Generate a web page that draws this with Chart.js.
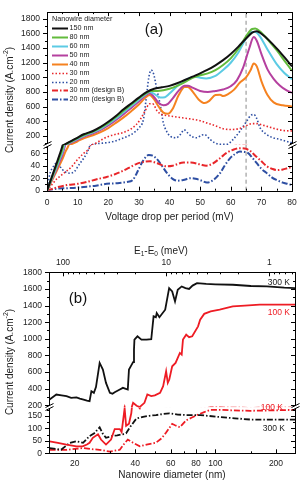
<!DOCTYPE html>
<html>
<head>
<meta charset="utf-8">
<script src="https://cdn.jsdelivr.net/npm/chart.js@4.4.1/dist/chart.umd.min.js"></script>
<style>
  html, body { margin: 0; padding: 0; background: #fff; }
  #wrap { position: relative; width: 304px; height: 489px; }
  canvas { position: absolute; left: 0; }
  #chartA { top: 0; }
  #chartB { top: 228px; }
</style>
</head>
<body>
<div id="wrap">
  <canvas id="chartA" width="304" height="228"></canvas>
  <canvas id="chartB" width="304" height="261"></canvas>
</div>
<script>
const FONT = "'Liberation Sans', Arial, sans-serif";

// ---- panel (a): current density vs voltage drop per period, [mV, A/cm2] ----
const nw150 = [[0,0],[1,14],[2,28],[3,42],[4,56],[5,71],[6,92],[8,135],[10,180],[12,225],[15,270],[17.5,325],[20,395],[22.5,475],[25,565],[27.5,645],[30,725],[32.5,800],[35,845],[37.5,865],[40,885],[42.5,920],[45,965],[47.5,1010],[50,1055],[52.5,1105],[55,1165],[57.5,1235],[60,1320],[62.5,1420],[65,1530],[67,1610],[68.5,1630],[70,1595],[72.5,1505],[75,1395],[77.5,1275],[80,1150]];
const nw80 = [[0,0],[1,13],[2,26],[3,39],[4,52],[5,66],[6,86],[8,128],[10,172],[12,215],[15,262],[17.5,315],[20,380],[22.5,460],[25,545],[27.5,630],[30,715],[32.5,790],[34,815],[36,815],[38,825],[40,845],[42.5,885],[45,935],[47.5,995],[50,1030],[52.5,1055],[55,1100],[57.5,1170],[60,1260],[62.5,1390],[65,1560],[67,1660],[68,1665],[69.5,1630],[72,1520],[75,1370],[77.5,1230],[80,1090]];
const nw60 = [[0,0],[1,12],[2,24],[3,36],[4,49],[5,61],[6,80],[8,120],[10,162],[12,205],[15,252],[17.5,300],[20,365],[22.5,440],[25,525],[27.5,610],[30,695],[32.5,780],[33.5,800],[35,775],[37,725],[38.5,730],[40,780],[42.5,880],[45,960],[47.5,1005],[48.5,1010],[50,995],[52,985],[55,1020],[57.5,1100],[60,1200],[62.5,1340],[65,1530],[67,1620],[68,1620],[69.5,1560],[72,1380],[75,1180],[77.5,1060],[80,975]];
const nw50 = [[0,0],[1,11],[2,22],[3,33],[4,45],[5,57],[6,74],[8,112],[10,150],[12,192],[15,238],[17.5,285],[20,345],[22.5,420],[25,500],[27.5,585],[30,670],[32,750],[33.5,785],[35,730],[36.5,650],[38,620],[39.5,640],[41,710],[43,820],[45,885],[46,885],[47.5,860],[50,815],[52.5,800],[55,815],[57.5,835],[60,880],[62,960],[64,1130],[66,1390],[67.5,1550],[68.5,1500],[70,1320],[72,1110],[74,980],[76,890],[78,830],[80,790]];
const nw40 = [[0,0],[1,10],[2,20],[3,30],[4,40],[5,50],[6,62],[7,72],[8,90],[10,130],[12,170],[15,212],[17.5,255],[20,310],[22.5,380],[25,455],[27.5,540],[30,630],[32,720],[33.5,760],[35,700],[36.5,600],[38,520],[39.5,505],[41,570],[43,760],[45,870],[46,870],[47.5,810],[49.5,700],[51.5,650],[53,680],[55,760],[56.5,765],[57.5,745],[59,770],[61,830],[63,930],[65,1000],[66.5,1100],[67.5,1190],[68.5,1150],[70,950],[72,760],[74,660],[77,620],[80,605]];
const nw30 = [[0,0],[1,6],[2,12],[3,18],[4,22],[5,26],[6,30],[8,38],[10,50],[12,60],[14,70],[15.5,95],[17,130],[18.5,165],[20,195],[22.5,225],[25,250],[27.5,300],[29,350],[30.5,430],[32,540],[33.5,640],[34.5,640],[36,540],[37.5,495],[40,475],[42.5,460],[45,445],[47.5,430],[50,410],[52.5,375],[55,340],[57.5,300],[60,290],[62.5,300],[65,340],[67,370],[68.5,370],[70,355],[72.5,325],[75,295],[77.5,275],[80,270]];
const nw20 = [[0,0],[0.5,15],[1,28],[2,38],[3,44],[4,40],[5,34],[6,30],[7.5,28],[9,31],[10.5,42],[12,52],[13,60],[14,72],[15,88],[17,100],[19.5,110],[22,130],[24,160],[26.5,200],[28.5,250],[30,310],[31.5,430],[32.5,750],[33.2,990],[34,1100],[34.8,1050],[35.8,850],[37,620],[38,380],[39,270],[40.2,200],[42.2,178],[43.5,220],[44.8,285],[46,240],[47.2,195],[48.9,178],[50.5,215],[51.5,220],[53.2,156],[55,105],[56.5,88],[58.7,88],[60.8,156],[63,268],[65.2,403],[66.5,480],[67.5,495],[68.5,440],[69.5,320],[71.7,223],[74,175],[76,156],[78,130],[80,110]];
const nw30B = [[0,0],[3,5],[6.5,9],[10,11],[13,14],[16,18],[19.5,22],[22,26],[24,30],[26.5,36],[29.3,43],[31.5,46],[33.7,47],[36,44],[39,39],[41,40],[44.6,45],[47,45],[50,42],[52,40],[54,43],[56.5,52],[58.5,60],[61,66],[63,68],[65,67],[66.5,63],[68,56],[69.6,49],[71.8,39],[73.5,35],[75,33],[77,34],[78.5,36],[80,38]];
const nw20B = [[0,0],[3,3],[6.5,4],[10,5],[13,6.5],[16,8],[19.5,11],[23,12],[26,14],[28,17],[29.3,28],[31.5,49],[33.2,57],[34.5,56],[36,50],[37.5,40],[39.2,28],[41,19],[42.5,16],[44.5,17],[46.8,20],[48.5,19],[50,17],[52.2,13],[54,16],[56.5,28],[58,40],[59.8,52],[61.5,59],[63,62.5],[64.5,62],[65.7,60],[67,53],[68.5,44],[70,35],[71.8,28],[73.5,21],[75,17],[77,13],[78.5,11],[80,9]];
const markerLine = [[65,0],[65,1890]];

const voltTicks = [0,10,20,30,40,50,60,70,80];
const voltMinor = [5,15,25,35,45,55,65,75];
const jTicksHiA = [200,400,600,800,1000,1200,1400,1600,1800];
const jMinorHiA = [100,300,500,700,900,1100,1300,1500,1700];
const jTicksLoA = [0,20,40,60];
const jMinorLoA = [10,30,50,70];

// ---- panel (b): current density vs nanowire diameter, [nm, A/cm2] ----
const solid300K = [[15,270],[16.2,330],[17.2,320],[18.2,310],[19.2,290],[20.4,295],[21.2,280],[21.9,270],[23,255],[23.7,250],[24.2,370],[24.9,350],[25.5,420],[26.6,710],[27.6,630],[28.6,470],[29.9,350],[30.8,340],[31.6,358],[33.5,390],[34.7,410],[36.7,390],[37.2,630],[38.2,680],[39,720],[39.4,870],[39.6,990],[41,1030],[42.9,990],[45.5,990],[48,995],[49.3,1270],[50.6,1260],[51.1,1310],[52.7,1260],[56.3,1350],[58.9,1610],[61,1570],[63,1450],[65,1590],[68,1630],[71,1610],[74,1600],[77,1640],[81,1670],[90,1660],[100,1655],[122,1650],[150,1635],[180,1630],[220,1615],[250,1610]];
const solid100K = [[15,48],[16.5,42],[18.2,35],[20.4,28],[21.9,28],[23,35],[23.7,42],[24.6,62],[26.1,76],[27,55],[28.6,35],[30.3,55],[31.6,97],[33.5,97],[34.2,85],[35.4,180],[36,110],[37.2,118],[38.2,160],[39,230],[40.6,195],[42.1,180],[44.4,230],[45.9,330],[48,310],[50,320],[53.1,350],[55,430],[56.9,610],[58,470],[59,510],[61,670],[63.4,710],[66.6,830],[68,810],[69,990],[71.6,1050],[74,1020],[76.7,1030],[82,1150],[84,1230],[88,1300],[94.7,1330],[105,1350],[122,1390],[140,1400],[166,1410],[250,1410]];
const dash300K = [[15,21],[17.1,14],[18.9,42],[20.4,48],[22,42],[23.7,69],[25,80],[26.6,104],[27.5,80],[28.6,62],[30.7,69],[32.5,72],[34.7,76],[36,80],[37.6,104],[40.5,139],[43.7,146],[47,150],[50.7,153],[55,157],[59,160],[65,155],[71.6,153],[84,153],[102,146],[125,140],[149,135],[200,135],[250,135]];
const dash100K = [[15,14],[18.2,14],[21.9,21],[24,17],[26.6,14],[29.9,7],[33.5,14],[35,35],[36.7,55],[39,42],[42.1,28],[45.5,35],[50.6,42],[54,60],[56.9,83],[61,118],[63,112],[66.6,104],[71.6,132],[76,142],[81,153],[88,165],[94.7,174],[105,174],[120,172],[149,170],[200,172],[250,174]];

const diamTicks = [20,40,60,80,100,200];
const diamMinor = [30,50,70,90,150];
const energyTicks = [100,10,1];
const energyMinor = [0.6,0.7,0.8,0.9,2,3,4,5,6,7,8,9,20,30,40,50,60,70,80,90];
const jTicksHiB = [200,400,600,800,1000,1200,1400,1600,1800];
const jMinorHiB = [300,500,700,900,1100,1300,1500,1700];
const jTicksLoB = [0,50,100,150];
const jMinorLoB = [25,75,125,175];

const seriesA = [
  { label: '150 nm', data: nw150, color: '#111111', dash: [], width: 2 },
  { label: '80 nm', data: nw80, color: '#62bb3c', dash: [], width: 2 },
  { label: '60 nm', data: nw60, color: '#5ccbe4', dash: [], width: 2 },
  { label: '50 nm', data: nw50, color: '#b5409f', dash: [], width: 2 },
  { label: '40 nm', data: nw40, color: '#f58220', dash: [], width: 2 },
  { label: '30 nm', data: nw30, color: '#e8262a', dash: [1.5, 2], width: 1.6 },
  { label: '20 nm', data: nw20, color: '#2e4fa3', dash: [1.5, 2], width: 1.6 },
  { label: '30 nm (design B)', data: nw30B, color: '#e8262a', dash: [6, 2, 1.5, 2], width: 2 },
  { label: '20 nm (design B)', data: nw20B, color: '#2e4fa3', dash: [6, 2, 1.5, 2], width: 2 }
];

const seriesB = [
  { data: solid300K, color: '#111111', dash: [], width: 1.8 },
  { data: solid100K, color: '#ee1c24', dash: [], width: 1.8 },
  { data: dash300K, color: '#111111', dash: [6, 2, 1.5, 2], width: 1.8 },
  { data: dash100K, color: '#ee1c24', dash: [6, 2, 1.5, 2], width: 1.8 }
];

const toXY = arr => arr.map(p => ({ x: p[0], y: p[1] }));

// every series goes on both halves of the broken y axis
function buildDatasets(series, mode) {
  const out = [];
  series.forEach(s => {
    ['yHi', 'yLo'].forEach(axis => {
      out.push({
        data: toXY(s.data),
        yAxisID: axis,
        borderColor: s.color,
        borderWidth: s.width,
        borderDash: s.dash,
        pointRadius: 0,
        fill: false,
        cubicInterpolationMode: mode,
        tension: mode === 'monotone' ? 0.4 : 0
      });
    });
  });
  return out;
}

// clip each dataset to its own half of the broken axis
const segmentClip = {
  id: 'segmentClip',
  beforeDatasetDraw(chart, args) {
    const y = args.meta.yScale, a = chart.chartArea, ctx = chart.ctx;
    ctx.save();
    ctx.beginPath();
    ctx.rect(a.left, y.top, a.right - a.left, y.bottom - y.top);
    ctx.clip();
  },
  afterDatasetDraw(chart) { chart.ctx.restore(); }
};

function yTickMarks(chart, id, major, minor) {
  const s = chart.scales[id], a = chart.chartArea, ctx = chart.ctx;
  const put = (v, len) => {
    if (v < s.min || v > s.max) return;
    const y = Math.round(s.getPixelForValue(v)) + 0.5;
    ctx.moveTo(a.left - len, y); ctx.lineTo(a.left, y);
    ctx.moveTo(a.right - len, y); ctx.lineTo(a.right, y);
  };
  ctx.beginPath();
  major.forEach(v => put(v, 4));
  minor.forEach(v => put(v, 2));
  ctx.stroke();
}

function xTickMarks(chart, id, major, minor, side) {
  const s = chart.scales[id], a = chart.chartArea, ctx = chart.ctx;
  const put = (v, len) => {
    const x = Math.round(s.getPixelForValue(v)) + 0.5;
    if (x < a.left || x > a.right) return;
    if (side === 'bottom') { ctx.moveTo(x, a.bottom); ctx.lineTo(x, a.bottom - len); }
    else { ctx.moveTo(x, a.top); ctx.lineTo(x, a.top + len); }
  };
  ctx.beginPath();
  major.forEach(v => put(v, 4));
  minor.forEach(v => put(v, 2));
  ctx.stroke();
}

function breakMark(ctx, x, y) {
  ctx.fillStyle = '#fff';
  ctx.fillRect(x - 4, y - 2, 8, 4);
  ctx.beginPath();
  ctx.moveTo(x - 4, y + 0.5); ctx.lineTo(x + 4, y - 3.5);
  ctx.moveTo(x - 4, y + 3.5); ctx.lineTo(x + 4, y - 0.5);
  ctx.stroke();
}

function drawFrame(chart) {
  const { ctx, chartArea: a } = chart;
  ctx.strokeStyle = '#000';
  ctx.lineWidth = 1;
  const l = Math.round(a.left) + 0.5, r = Math.round(a.right) + 0.5;
  const t = Math.round(a.top) + 0.5, b = Math.round(a.bottom) + 0.5;
  ctx.strokeRect(l, t, r - l, b - t);
  const yb = Math.round(chart.scales.yLo.top);
  breakMark(ctx, l, yb);
  breakMark(ctx, r, yb);
}

// rotated "Current density (A.cm^-2)"
function yTitle(ctx, x, y) {
  const parts = [['Current density (A.cm', 10, 0], ['-2', 7, -4], [')', 10, 0]];
  ctx.save();
  ctx.translate(x, y);
  ctx.rotate(-Math.PI / 2);
  ctx.fillStyle = '#222';
  ctx.textBaseline = 'middle';
  ctx.textAlign = 'left';
  let w = 0;
  parts.forEach(p => { ctx.font = p[1] + 'px ' + FONT; w += ctx.measureText(p[0]).width; });
  let cx = -w / 2;
  parts.forEach(p => {
    ctx.font = p[1] + 'px ' + FONT;
    ctx.fillText(p[0], cx, p[2]);
    cx += ctx.measureText(p[0]).width;
  });
  ctx.restore();
}

function label(ctx, text, x, y, size, color, align) {
  ctx.font = size + 'px ' + FONT;
  ctx.fillStyle = color;
  ctx.textAlign = align || 'left';
  ctx.textBaseline = 'middle';
  ctx.fillText(text, x, y);
}

function linearY(min, max, ticks, weight, stackWeight, width) {
  return {
    type: 'linear', position: 'left', stack: 'j', weight: weight, stackWeight: stackWeight,
    min: min, max: max,
    grid: { display: false, drawTicks: false }, border: { display: false },
    afterBuildTicks: s => { s.ticks = ticks.map(v => ({ value: v })); },
    afterFit: s => { s.width = width; },
    ticks: { font: { family: FONT, size: 8.5 }, color: '#222', padding: 7, autoSkip: false, callback: v => String(v) }
  };
}

const tickFont = { family: FONT, size: 8.5 };

// ---------------- chart (a) ----------------
new Chart(document.getElementById('chartA'), {
  type: 'line',
  data: {
    datasets: buildDatasets(seriesA, 'monotone').concat(buildDatasets([
      { data: markerLine, color: '#8a8a8a', dash: [4, 3], width: 1 }
    ], 'default'))
  },
  options: {
    responsive: false,
    animation: false,
    devicePixelRatio: 1,
    layout: { padding: { top: 10, right: 12, left: 0, bottom: 0 } },
    plugins: { legend: { display: false }, tooltip: { enabled: false } },
    scales: {
      x: {
        type: 'linear', position: 'bottom', min: 0, max: 80,
        grid: { display: false, drawTicks: false }, border: { display: false },
        afterBuildTicks: s => { s.ticks = voltTicks.map(v => ({ value: v })); },
        afterFit: s => { s.height = 37.3; },
        ticks: { font: tickFont, color: '#222', padding: 7, maxRotation: 0, autoSkip: false, callback: v => String(v) },
        title: { display: true, text: 'Voltage drop per period (mV)', color: '#222', font: { family: FONT, size: 10 }, padding: { top: 0, bottom: 5 } }
      },
      yHi: linearY(78, 1890, jTicksHiA, 2, 134, 47),
      yLo: linearY(0, 73, jTicksLoA, 1, 46, 47)
    }
  },
  plugins: [segmentClip, {
    id: 'decorA',
    afterDraw(chart) {
      const ctx = chart.ctx;
      ctx.save();
      drawFrame(chart);
      yTickMarks(chart, 'yHi', jTicksHiA, jMinorHiA);
      yTickMarks(chart, 'yLo', jTicksLoA, jMinorLoA);
      xTickMarks(chart, 'x', voltTicks, voltMinor, 'bottom');
      xTickMarks(chart, 'x', voltTicks, voltMinor, 'top');
      yTitle(ctx, 10, 100);
      label(ctx, '(a)', 154, 30, 15, '#111', 'center');
      // legend
      label(ctx, 'Nanowire diameter', 52, 19, 7.2, '#222');
      seriesA.forEach((s, i) => {
        const y = Math.round(28.3 + i * 8.87) + 0.5;
        ctx.save();
        ctx.strokeStyle = s.color;
        ctx.lineWidth = s.width;
        ctx.setLineDash(s.dash);
        ctx.beginPath(); ctx.moveTo(52, y); ctx.lineTo(68, y); ctx.stroke();
        ctx.restore();
        label(ctx, s.label, 69.5, y, 7.2, '#222');
      });
      ctx.restore();
    }
  }]
});

// ---------------- chart (b) ----------------
new Chart(document.getElementById('chartB'), {
  type: 'line',
  data: { datasets: buildDatasets(seriesB, 'default') },
  options: {
    responsive: false,
    animation: false,
    devicePixelRatio: 1,
    layout: { padding: { top: 0, right: 9, left: 0, bottom: 0 } },
    plugins: { legend: { display: false }, tooltip: { enabled: false } },
    scales: {
      x: {
        type: 'logarithmic', position: 'bottom', min: 14.9, max: 248.6,
        grid: { display: false, drawTicks: false }, border: { display: false },
        afterBuildTicks: s => { s.ticks = diamTicks.map(v => ({ value: v })); },
        afterFit: s => { s.height = 35.7; },
        ticks: { font: tickFont, color: '#222', padding: 5, maxRotation: 0, autoSkip: false, callback: v => String(v) },
        title: { display: true, text: 'Nanowire diameter (nm)', color: '#222', font: { family: FONT, size: 10 }, padding: { top: 0, bottom: 8 } }
      },
      xTop: {
        type: 'logarithmic', position: 'top', reverse: true, min: 0.563, max: 136.7,
        grid: { display: false, drawTicks: false }, border: { display: false },
        afterBuildTicks: s => { s.ticks = energyTicks.map(v => ({ value: v })); },
        afterFit: s => { s.height = 44.3; },
        ticks: { font: tickFont, color: '#222', padding: 5, maxRotation: 0, autoSkip: false, callback: v => String(v) }
      },
      yHi: linearY(176, 1800, jTicksHiB, 2, 135, 49),
      yLo: linearY(0, 184, jTicksLoB, 1, 46, 49)
    }
  },
  plugins: [segmentClip, {
    id: 'decorB',
    afterDraw(chart) {
      const ctx = chart.ctx;
      ctx.save();
      drawFrame(chart);
      yTickMarks(chart, 'yHi', jTicksHiB, jMinorHiB);
      yTickMarks(chart, 'yLo', jTicksLoB, jMinorLoB);
      xTickMarks(chart, 'x', diamTicks, diamMinor, 'bottom');
      xTickMarks(chart, 'xTop', energyTicks, energyMinor, 'top');
      yTitle(ctx, 10, 134);
      // top axis title E1-E0 (meV)
      const parts = [['E', 10, 0], ['1', 6.5, 2.5], ['-E', 10, 0], ['0', 6.5, 2.5], [' (meV)', 10, 0]];
      let w = 0;
      parts.forEach(p => { ctx.font = p[1] + 'px ' + FONT; w += ctx.measureText(p[0]).width; });
      let cx = 161 - w / 2;
      parts.forEach(p => {
        label(ctx, p[0], cx, 23.7 + p[2], p[1], '#222');
        ctx.font = p[1] + 'px ' + FONT;
        cx += ctx.measureText(p[0]).width;
      });
      label(ctx, '(b)', 78, 70.5, 15, '#111', 'center');
      label(ctx, '300 K', 290, 54.3, 8.5, '#222', 'right');
      label(ctx, '100 K', 290, 84.7, 8.5, '#ee1c24', 'right');
      label(ctx, '100 K', 283, 179.3, 8.5, '#ee1c24', 'right');
      label(ctx, '300 K', 285, 201, 8.5, '#222', 'right');
      ctx.restore();
    }
  }]
});
</script>
</body>
</html>
